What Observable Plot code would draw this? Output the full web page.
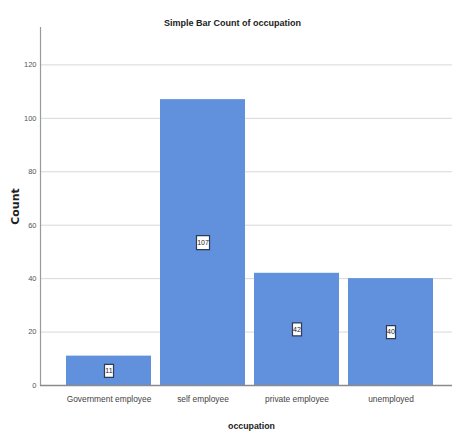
<!DOCTYPE html>
<html>
<head>
<meta charset="utf-8">
<script src="https://cdn.jsdelivr.net/npm/d3@7"></script>
<script src="https://cdn.jsdelivr.net/npm/@observablehq/plot@0.6"></script>
<style>
  body { margin: 0; background: #fff; }
  #chart svg { display: block; }
</style>
</head>
<body>
<div id="chart"></div>
<script>
const categories = ["Government employee", "self employee", "private employee", "unemployed"];
const counts = [11, 107, 42, 40];
const yTicks = [0, 20, 40, 60, 80, 100, 120];
const titleText = "Simple Bar Count of occupation";
const xLabel = "occupation";
const yLabel = "Count";

const data = categories.map((c, i) => ({occupation: c, count: counts[i]}));

function boxSymbol(w, h) {
  return {draw(ctx) { ctx.rect(-w / 2, -h / 2, w, h); }};
}
const boxes = {1: boxSymbol(8, 13), 2: boxSymbol(9, 13), 3: boxSymbol(13, 14)};

const font = "'Liberation Sans', Arial, sans-serif";

const chart = Plot.plot({
  width: 452,
  height: 437,
  marginTop: 27,
  marginBottom: 52,
  marginLeft: 40,
  marginRight: 0,
  style: {fontFamily: font, background: "#fff"},
  x: {domain: categories, range: [60.3, 438.3], paddingInner: 0.1, paddingOuter: 0.05, label: null},
  y: {domain: [0, 134], label: null},
  marks: [
    Plot.gridY(yTicks, {stroke: "#d8d8d8", strokeOpacity: 1, strokeWidth: 1}),
    Plot.barY(data, {x: "occupation", y: "count", fill: "#6190dd"}),
    Plot.frame({anchor: "left", stroke: "#9a9a9a", strokeWidth: 1.2}),
    Plot.ruleY([0], {stroke: "#8a8a8a", strokeWidth: 1.5}),
    Plot.axisY(yTicks, {tickSize: 0, tickPadding: 4, fontSize: 7.5, fill: "#555", label: null}),
    Plot.axisX({tickSize: 0, tickPadding: 11, fontSize: 8.4, fill: "#444", label: null}),
    Plot.dot(data, {x: "occupation", y: d => d.count / 2, symbol: d => boxes[String(d.count).length], fill: "#fff", stroke: "#2e3b55", strokeWidth: 1.2, r: 1}),
    Plot.text(data, {x: "occupation", y: d => d.count / 2, text: d => String(d.count), fontSize: 7, fill: "#222"}),
    Plot.text([titleText], {frameAnchor: "top", dx: -14, dy: -8, fontSize: 9, fontWeight: "bold", fill: "#222"}),
    Plot.text([xLabel], {frameAnchor: "bottom", dx: 5, dy: 43, fontSize: 8.8, fontWeight: "bold", fill: "#222"}),
    Plot.text([yLabel], {frameAnchor: "left", textAnchor: "middle", dx: -25, dy: 0, rotate: -90, fontSize: 11, fontWeight: "bold", fill: "#222", fontFamily: "'DejaVu Sans', sans-serif", letterSpacing: 1.5})
  ]
});
document.getElementById("chart").append(chart);
</script>
</body>
</html>
